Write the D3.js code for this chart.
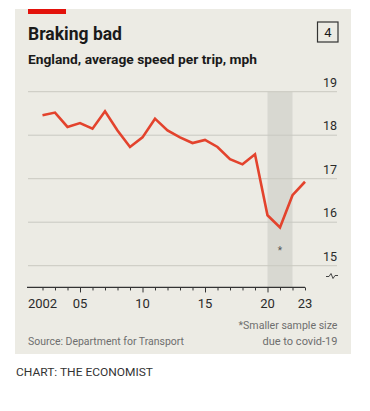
<!DOCTYPE html>
<html>
<head>
<meta charset="utf-8">
<script src="https://cdn.jsdelivr.net/npm/d3@7"></script>
<style>
  html, body { margin: 0; padding: 0; background: #ffffff; }
  svg { display: block; }
  text { font-family: Roboto, "Liberation Sans", sans-serif; }
</style>
</head>
<body>
<svg id="chart" width="370" height="411"></svg>
<script>
// ---- data ----
const years = [2002, 2003, 2004, 2005, 2006, 2007, 2008, 2009, 2010, 2011, 2012,
               2013, 2014, 2015, 2016, 2017, 2018, 2019, 2020, 2021, 2022, 2023];
const speeds = [18.46, 18.52, 18.19, 18.28, 18.15, 18.55, 18.11, 17.73, 17.95, 18.38, 18.11,
                17.95, 17.82, 17.89, 17.73, 17.45, 17.33, 17.56, 16.16, 15.88, 16.62, 16.93];
const yTicks = [15, 16, 17, 18, 19];
const xTickLabels = [[2002, "2002"], [2005, "05"], [2010, "10"], [2015, "15"], [2020, "20"], [2023, "23"]];
const majorTicks = [2005, 2010, 2015, 2020];
const covidBand = [2020, 2022];
const asteriskYear = 2021;

const svg = d3.select("#chart");

// panel
svg.append("rect").attr("x", 15).attr("y", 9).attr("width", 336).attr("height", 345).attr("fill", "#ecebe4");
svg.append("rect").attr("x", 28).attr("y", 9).attr("width", 38).attr("height", 5).attr("fill", "#e3120b");

// titles
svg.append("text").attr("x", 28).attr("y", 40).attr("font-size", 18).attr("font-weight", 700)
  .attr("fill", "#1a1a1a").attr("textLength", 94).attr("lengthAdjust", "spacingAndGlyphs").text("Braking bad");
svg.append("text").attr("x", 28).attr("y", 63.5).attr("font-size", 13).attr("font-weight", 700)
  .attr("fill", "#1a1a1a").attr("textLength", 229).attr("lengthAdjust", "spacingAndGlyphs").text("England, average speed per trip, mph");

// numbered box
svg.append("rect").attr("x", 317.5).attr("y", 22).attr("width", 20.5).attr("height", 20)
  .attr("fill", "none").attr("stroke", "#333").attr("stroke-width", 1.2);
svg.append("text").attr("x", 327.8).attr("y", 37).attr("text-anchor", "middle").attr("font-size", 13)
  .attr("fill", "#1a1a1a").text("4");

// scales
const x = d3.scaleLinear().domain([2002, 2023]).range([42.5, 305]);
const y = d3.scaleLinear().domain([15, 19]).range([265.7, 91.7]);
const axisY = y(14.5);

// covid band
svg.append("rect").attr("x", x(covidBand[0])).attr("y", y(19))
  .attr("width", x(covidBand[1]) - x(covidBand[0])).attr("height", axisY - y(19))
  .attr("fill", "#d8d8d1");

// gridlines
svg.append("g").selectAll("line").data(yTicks).join("line")
  .attr("x1", 28).attr("x2", 337).attr("y1", d => y(d)).attr("y2", d => y(d))
  .attr("stroke", "#c9c9c1").attr("stroke-width", 1);

// y labels
svg.append("g").selectAll("text").data(yTicks).join("text")
  .attr("x", 337).attr("y", d => y(d) - 5).attr("text-anchor", "end")
  .attr("font-size", 12.5).attr("fill", "#2a2a2a").text(d => d);

// break symbol
svg.append("path").attr("d", "M326,276.5 h3 l2,-3 l2,5 l2,-3 h3")
  .attr("fill", "none").attr("stroke", "#444").attr("stroke-width", 1);

// x axis
const xAxis = d3.axisBottom(x).tickValues(years).tickSize(3).tickFormat("");
const gx = svg.append("g").attr("transform", `translate(0,${axisY})`).call(xAxis);
gx.select(".domain").remove();
gx.selectAll(".tick line").attr("stroke", "#333")
  .attr("y2", d => majorTicks.includes(d) ? 5 : 3);
gx.append("line").attr("x1", 27).attr("x2", x(2023)).attr("y1", 0).attr("y2", 0)
  .attr("stroke", "#333").attr("stroke-width", 1.2);

svg.append("g").selectAll("text").data(xTickLabels).join("text")
  .attr("x", d => x(d[0])).attr("y", 308).attr("text-anchor", "middle")
  .attr("font-size", 13).attr("fill", "#2a2a2a").text(d => d[1]);

// line
const line = d3.line().x((d, i) => x(years[i])).y(d => y(d));
svg.append("path").datum(speeds).attr("d", line)
  .attr("fill", "none").attr("stroke", "#e3432d").attr("stroke-width", 2.6)
  .attr("stroke-linejoin", "miter").attr("stroke-linecap", "butt");

// asterisk
svg.append("text").attr("x", x(asteriskYear)).attr("y", 254).attr("text-anchor", "middle")
  .attr("font-size", 10).attr("fill", "#555").text("*");

// footnotes
svg.append("text").attr("x", 337.5).attr("y", 328.5).attr("text-anchor", "end").attr("font-size", 11)
  .attr("fill", "#6e6e6e").attr("textLength", 99).attr("lengthAdjust", "spacingAndGlyphs").text("*Smaller sample size");
svg.append("text").attr("x", 337.5).attr("y", 344.5).attr("text-anchor", "end").attr("font-size", 11)
  .attr("fill", "#6e6e6e").attr("textLength", 75).attr("lengthAdjust", "spacingAndGlyphs").text("due to covid-19");
svg.append("text").attr("x", 28).attr("y", 344.5).attr("font-size", 11)
  .attr("fill", "#6e6e6e").attr("textLength", 156).attr("lengthAdjust", "spacingAndGlyphs").text("Source: Department for Transport");

svg.append("text").attr("x", 16).attr("y", 376).attr("font-size", 10.5)
  .attr("fill", "#333").attr("textLength", 137).attr("lengthAdjust", "spacingAndGlyphs").text("CHART: THE ECONOMIST");
</script>
</body>
</html>
